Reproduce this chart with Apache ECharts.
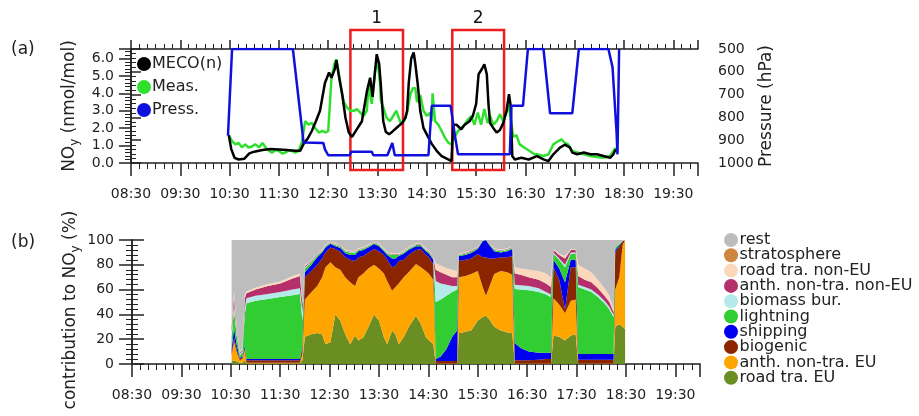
<!DOCTYPE html>
<html>
<head>
<meta charset="utf-8">
<script src="https://cdn.jsdelivr.net/npm/echarts@6/dist/echarts.min.js"></script>
<style>html,body{margin:0;background:#fff}#chart{width:919px;height:416px}</style>
</head>
<body>
<div id="chart"></div>
<script>
// time is minutes after 08:30
var mecoT = [119,122,126,131,138,144,150,160,170,180,190,200,206,210,215,220,225,230,236,241,244,248,250,253,257,261,265,269,273,281,287,291,294,299,302,304,307,310,314,318,325,330,334,336,338,341,344,346,349,352,356,362,366,372,378,386,390,392,396,402,406,412,416,420,423,427,430,433,435,437,441,445,449,453,457,460,462,464,467,475,484,494,502,508,514,522,528,534,537,543,551,559,567,575,583,587,590];
var mecoV = [1.6,0.8,0.3,0.2,0.25,0.55,0.65,0.75,0.8,0.78,0.75,0.7,0.7,1.1,1.4,1.84,2.4,3.0,4.6,5.2,4.9,5.4,5.9,5.0,3.95,2.6,1.75,1.5,1.8,2.4,4.1,4.9,3.8,6.25,5.7,4.5,2.4,1.8,1.65,1.8,2.1,2.3,2.6,3.0,4.6,6.0,6.35,5.7,4.5,3.0,2.0,1.46,1.1,0.7,0.4,0.21,0.11,2.2,2.2,1.94,2.2,2.4,2.7,3.4,5.1,5.4,5.67,5.1,3.4,2.3,2.0,1.75,1.9,2.3,3.0,3.95,3.3,0.4,0.2,0.3,0.2,0.4,0.21,0.11,0.5,0.88,1.05,0.9,0.6,0.5,0.6,0.5,0.5,0.4,0.3,0.5,0.79];

var measT = [119,123,127,131,135,139,143,147,151,156,160,164,168,172,176,180,184,188,192,196,200,204,208,212,216,220,224,229,233,237,240,244,248,250,253,257,259,263,267,271,275,279,283,287,289,293,297,300,303,304,307,311,315,319,323,328,332,336,340,343,346,348,352,356,360,364,366,367,370,374,378,382,386,390,394,398,402,406,410,414,418,422,426,430,434,437,441,445,449,453,457,460,465,469,473,479,485,491,494,502,508,514,520,524,528,532,537,543,551,559,567,575,583,587,590];
var measV = [1.6,1.26,1.07,1.15,0.9,1.07,0.88,0.95,1.07,0.9,1.15,0.88,0.7,0.6,0.75,0.69,0.55,0.6,0.72,0.69,0.6,0.69,1.2,2.4,2.2,2.3,2.0,1.75,1.84,1.75,1.84,4.9,5.77,5.96,5.1,3.95,3.5,3.18,3.0,3.0,3.1,2.9,2.7,3.0,4.5,3.4,5.3,5.9,4.6,3.6,3.2,2.6,2.4,2.7,3.0,2.3,2.4,2.9,3.95,4.3,4.3,3.5,3.9,3.0,2.7,2.9,2.4,4.0,2.4,2.2,1.84,1.46,1.17,1.07,1.5,1.84,2.0,2.2,2.5,2.7,2.2,2.9,2.2,3.1,2.3,2.7,2.2,2.4,2.8,2.4,2.9,3.3,1.5,1.6,1.07,0.88,0.69,0.5,0.5,0.4,0.5,1.07,1.26,1.36,1.15,1.07,0.69,0.6,0.5,0.4,0.35,0.3,0.4,0.69,0.88];

var pressT = [118,123,197,210,234,236,240,266,268,293,295,312,318,321,362,366,389,394,398,461,463,477,483,502,510,537,545,581,586,591,592,594];
var pressV = [880,500,500,910,912,940,966,966,951,951,966,966,912,966,966,749,749,876,962,962,749,749,500,500,782,782,500,500,580,873,962,500];

// panel (b): contribution of each source, % (bottom layer first)
var tb = [121,124,127,131,134,137,139,150,165,180,195,204,207,210,218,225,231,235,241,247,253,259,265,271,275,281,287,294,300,306,310,316,320,324,330,336,345,351,357,361,366,369,375,382,389,395,397,405,412,420,426,430,434,440,448,456,462,465,472,482,494,503,509,512,519,526,533,539,542,550,558,566,574,580,585,587,592,596,599];
var roadEU = [2,3,2,1,1,3,0.5,0.5,0.5,0.5,0.5,0.5,3,22,24,25,24,16,17.5,40,35,24,16,23,19,21.5,29.6,40,35,21.5,16,27,24,16,21.5,29.6,39,32,21.5,19,16,0,0,0,0,0,24.7,26,27,35,38,39,36,30,27,25.5,24.7,0,0,0,0,0,0,23,22,19,23,24,0,0,0,0,0,0,0,30,32,30,28];
var anthEU = [5,15,8,2,3,8,0.5,0.5,0.5,0.5,0.5,0.5,5,30,34,38,46,62,64.5,38,41,46,50,40,51,51.5,47.4,40,42,51.5,51,32,38,49,48.5,44.4,41.6,46,53.5,53.6,52,0.5,0.5,0.5,0.5,0.5,45.3,45,45.6,40,24,16,26,42.6,48,48.5,47.3,0.5,0.5,0.5,0.5,0.5,0.5,30,26,22,28,28,0.5,0.5,0.5,0.5,0.5,0.5,0.5,30,38,66,71];
var biogenic = [2,3,2,1,1,2,2,2,2,2,2,2,4,18,17,17,15,12,12,14.7,14.5,16,18,20,16,14,13,12.7,14,15,17,19,17,18,14,14,11.4,14.7,13,13.4,12,2,2,2,2,2,13,13,12.4,13.7,24,31,23,12.4,11,12,15,2.5,2.5,2.5,3,3.5,3.5,25,20,3,27,26,3,3,3,3,3,3,3,30,25,3,1];
var shipping = [3,8,4,1,1,2,1,1,1,1,1,1,3,4,5,6,5,4,3,2.3,3,3.5,4,5,5,5,4,4.1,4,3,4,7,6,4,5,4,3,2.3,3,3,4,1.5,3.5,9.5,19.5,24.5,4,4,4.5,4,13,14,11,6,4,5,5.7,14,10,7,5.5,5,5,6,9,22,6,6,4.5,4.5,4.5,4.5,4.5,4.5,4.5,2,1,0,0];
var lightning = [10,15,8,2,3,25,45,47,48.5,50,51.5,52.5,20,3,2,1.5,1,1,0.5,1,1,1.5,2,2,1,1,1,0.7,1,1,1,3,3,1,1,1,1,1,1,1,1,46,46,43,36,33,1,1,1,0.8,0.5,0,1,1,1,1,0.8,43.5,47,49.5,49,47,45,5,7,12,5,5,54,52,50,46,41,36,30,2,1,0,0];
var biomass = [3,5,3,1,1,5,4,4,4,4,4.5,4.5,7,1,0.5,0.5,0.3,0.3,0.3,0.3,0.3,0.3,0.3,0.3,0.3,0.3,0.3,0.3,0.3,0.3,0.3,0.3,0.3,0.3,0.3,0.3,0.3,0.3,0.3,0.3,0.3,17,13,9,5,3,0.3,0.3,0.3,0.3,0.1,0,0.2,0.3,0.3,0.3,0.3,3.5,3.5,3.5,3,2,2,1,1,2,1,1,2,2,2,2,2,2,1.5,0,0,0,0];
var anthNonEU = [5,6,3,1,1,8,4,5,6.5,7,9,10,6,1,0.5,0.5,0.5,0.5,0.4,0.5,0.5,0.5,0.5,0.5,0.5,0.5,0.5,0.4,0.5,0.5,0.5,0.5,0.5,0.5,0.5,0.5,0.5,0.5,0.5,0.5,0.5,9,9,8,7,7,0.5,0.5,0.5,0.4,0.2,0,0.3,0.5,0.5,0.5,0.5,9,8.5,7,7,7,6,2,3,5,2,2,7,6,6,5,4,4,2.5,0,0,0,0];
var roadNonEU = [2,3,2,1,1,3,1.5,1.5,1.5,1.5,2,2,2,1,0.5,0.5,0.5,0.5,0.3,0.5,0.5,0.5,0.5,0.5,0.5,0.5,0.5,0.3,0.5,0.5,0.5,0.5,0.5,0.5,0.5,0.5,0.5,0.5,0.5,0.5,0.5,5,5.5,5.5,6,5,0.5,0.5,0.5,0.3,0.2,0,0.3,0.5,0.5,0.5,0.5,5,5,6,7,8,8,0.5,1,2,0.5,0.5,9,9,8,7,6,5,2,0,0,0,0];
var strato = [0,0,0,0,0,0,0,0,0,0,0,0,0,0,0,0,0,0,0,0,0,0,0,0,0,0,0,0,0,0,0,0,0,0,0,0,0,0,0,0,0,0,0,0,0,0,0,0,0,0,0,0,0,0,0,0,0,0,0,0,0,0,0,0,0,0,0,0,0,0,0,0,0,0,0,0,0,0,0];
var rest = [68,42,68,90,88,44,41.5,38.5,35.5,33.5,29,27,50,20,16.5,11,7.7,3.7,1.5,2.7,4.2,7.7,8.7,8.7,6.7,5.7,3.7,1.5,2.7,6.7,9.7,10.7,10.7,10.7,8.7,5.7,2.7,2.7,6.7,8.7,13.7,19,20.5,22.5,24,25,10.7,9.7,8.2,5.5,0,0,2.2,6.7,7.7,6.7,5.2,22,23,24,25,27,30,7.5,11,13,7.5,7.5,20,23,26,32,39,45,56,6,3,1,0];

var srcNames = ['road tra. EU', 'anth. non-tra. EU', 'biogenic', 'shipping', 'lightning', 'biomass bur.', 'anth. non-tra. non-EU', 'road tra. non-EU', 'stratosphere', 'rest'];
var srcValues = [roadEU, anthEU, biogenic, shipping, lightning, biomass, anthNonEU, roadNonEU, strato, rest];
var srcColors = ['#6b8e23', '#ffa500', '#8b2500', '#0000ee', '#32cd32', '#b4eaea', '#b5306a', '#fbd8bb', '#cd853f', '#bdbdbd'];

// red boxes in panel (a)
var boxes = [[267, 331, '1'], [391, 454, '2']];

function zip(t, v) {
  var out = [];
  for (var i = 0; i < t.length; i++) out.push([t[i], v[i]]);
  return out;
}
// value first, time second: the stack then runs on the value column
function zipVT(t, v) {
  var out = [];
  for (var i = 0; i < t.length; i++) out.push([v[i], t[i]]);
  return out;
}
function clock(v) {
  var t = 510 + v, h = Math.floor(t / 60), m = t % 60;
  return (h < 10 ? '0' : '') + h + ':' + (m < 10 ? '0' : '') + m;
}

var FONT = 'DejaVu Sans';
var ink = '#222';
var lineDark = { lineStyle: { color: ink, width: 1.5 } };

function timeAxis(grid, pos, opts) {
  var ax = {
    type: 'value', gridIndex: grid, position: pos, min: 0, max: 690, interval: 60,
    axisLine: lineDark,
    axisTick: { show: true, length: 13, lineStyle: { color: ink, width: 1.5 } },
    minorTick: { show: true, splitNumber: 6, length: 6, lineStyle: { color: ink, width: 1 } },
    axisLabel: { show: true, margin: 24, formatter: clock, showMaxLabel: false, fontSize: 14, fontFamily: FONT, color: ink },
    splitLine: { show: false }
  };
  for (var k in opts) ax[k] = opts[k];
  return ax;
}

var series = [
  { name: 'Meas.', type: 'line', xAxisIndex: 0, yAxisIndex: 0, data: zip(measT, measV), showSymbol: false, color: '#2fe02f', lineStyle: { width: 2.5 }, z: 3 },
  { name: 'MECO(n)', type: 'line', xAxisIndex: 0, yAxisIndex: 0, data: zip(mecoT, mecoV), showSymbol: false, color: '#000', lineStyle: { width: 2.5 }, z: 4 },
  { name: 'Press.', type: 'line', xAxisIndex: 0, yAxisIndex: 1, data: zip(pressT, pressV), showSymbol: false, color: '#1010dd', lineStyle: { width: 2.5 }, z: 5 }
];
for (var i = 0; i < srcNames.length; i++) {
  series.push({
    name: srcNames[i], type: 'line', stack: 'src', xAxisIndex: 2, yAxisIndex: 2,
    data: zipVT(tb, srcValues[i]), encode: { x: 1, y: 0 },
    showSymbol: false, color: srcColors[i],
    lineStyle: { width: 0 }, areaStyle: { color: srcColors[i], opacity: 1 }
  });
}
series.push({
  type: 'line', xAxisIndex: 4, yAxisIndex: 4, data: [], z: 10,
  markArea: {
    silent: true,
    itemStyle: { color: 'rgba(0,0,0,0)', borderColor: '#ee1c1c', borderWidth: 2.5 },
    label: { show: true, position: 'top', distance: 2, fontSize: 17, fontFamily: FONT, color: '#111' },
    data: boxes.map(function (b) { return [{ xAxis: b[0], name: b[2] }, { xAxis: b[1] }]; })
  }
});

var nameStyle = { fontSize: 17, color: ink, fontFamily: FONT,
  rich: { s: { fontSize: 12, fontFamily: FONT, color: ink, padding: [10, 0, 0, 0] } } };

var chart = echarts.init(document.getElementById('chart'), null, { renderer: 'canvas' });
chart.setOption({
  animation: false,
  backgroundColor: '#fff',
  textStyle: { fontFamily: FONT },
  title: [
    { text: '(a)', left: 6, top: 36, textStyle: { fontSize: 17, fontWeight: 'normal', color: ink, fontFamily: FONT } },
    { text: '(b)', left: 6, top: 229, textStyle: { fontSize: 17, fontWeight: 'normal', color: ink, fontFamily: FONT } }
  ],
  grid: [
    { left: 131, right: 221, top: 49, height: 114 },
    { left: 132, right: 219, top: 240, height: 124 },
    { left: 131, right: 221, top: 30, height: 140 }
  ],
  legend: [
    {
      data: ['MECO(n)', 'Meas.', 'Press.'], orient: 'vertical', left: 132, top: 51,
      icon: 'circle', itemWidth: 14, itemHeight: 14, itemGap: 7, selectedMode: false, z: 1,
      textStyle: { fontSize: 16, color: ink, fontFamily: FONT, padding: [0, 0, 0, -4] }
    },
    {
      data: srcNames.slice().reverse(), orient: 'vertical', left: 719, top: 227,
      icon: 'circle', itemWidth: 15, itemHeight: 14, itemGap: -0.7, selectedMode: false,
      textStyle: { fontSize: 16, lineHeight: 14, color: ink, fontFamily: FONT, padding: [0, 0, 0, -4] }
    }
  ],
  xAxis: [
    timeAxis(0, 'bottom', {}),
    timeAxis(0, 'top', {
      axisLabel: { show: false },
      axisTick: { show: true, length: 9, lineStyle: { color: ink, width: 1.5 } },
      minorTick: { show: true, splitNumber: 6, length: 5, lineStyle: { color: ink } }
    }),
    timeAxis(1, 'bottom', {}),
    timeAxis(1, 'top', {
      axisLabel: { show: false }, axisTick: { show: false }, minorTick: { show: false },
      axisLine: { lineStyle: { color: '#555', width: 1.5 } }
    }),
    { type: 'value', gridIndex: 2, min: 0, max: 690, show: false }
  ],
  yAxis: [
    {
      type: 'value', gridIndex: 0, position: 'left', min: 0, max: 6.55, interval: 1,
      axisLine: { show: true, lineStyle: { color: ink, width: 1.5 } },
      axisTick: { show: true, length: 12, lineStyle: { color: ink, width: 1.5 } },
      minorTick: { show: true, splitNumber: 5, length: 6, lineStyle: { color: ink } },
      axisLabel: { margin: 17, fontSize: 14, color: ink, fontFamily: FONT, showMaxLabel: false,
        formatter: function (v) { return v.toFixed(1); } },
      splitLine: { show: false },
      name: 'NO{s|y} (nmol/mol)', nameLocation: 'middle', nameGap: 50, nameRotate: 90, nameMoveOverlap: false,
      nameTextStyle: nameStyle
    },
    {
      type: 'value', gridIndex: 0, position: 'right', min: 500, max: 1000, interval: 100, inverse: true,
      axisLine: { show: true, lineStyle: { color: ink, width: 1.5 } },
      axisTick: { show: true, length: 10, lineStyle: { color: ink, width: 1.5 } },
      minorTick: { show: true, splitNumber: 5, length: 5, lineStyle: { color: ink } },
      axisLabel: { margin: 20, fontSize: 14, color: ink, fontFamily: FONT,
        formatter: function (v) { return String(v); } },
      splitLine: { show: false },
      name: 'Pressure (hPa)', nameLocation: 'middle', nameGap: 60, nameRotate: 90, nameMoveOverlap: false,
      nameTextStyle: { fontSize: 17, color: ink, fontFamily: FONT }
    },
    {
      type: 'value', gridIndex: 1, position: 'left', min: 0, max: 100, interval: 20,
      axisLine: { show: true, lineStyle: { color: ink, width: 1.5 } },
      axisTick: { show: true, length: 13, lineStyle: { color: ink, width: 1.5 } },
      minorTick: { show: true, splitNumber: 5, length: 6, lineStyle: { color: ink } },
      axisLabel: { margin: 18, fontSize: 14, color: ink, fontFamily: FONT },
      splitLine: { show: false },
      name: 'contribution to NO{s|y} (%)', nameLocation: 'middle', nameGap: 50, nameRotate: 90, nameMoveOverlap: false,
      nameTextStyle: { fontSize: 17, color: ink, fontFamily: FONT, padding: [0, 16, 0, 0],
        rich: nameStyle.rich }
    },
    {
      type: 'value', gridIndex: 1, position: 'right', min: 0, max: 100, interval: 20,
      axisLine: { show: true, lineStyle: { color: ink, width: 1.5 } },
      axisTick: { show: true, length: 12, lineStyle: { color: ink, width: 1.5 } },
      minorTick: { show: true, splitNumber: 5, length: 6, lineStyle: { color: ink } },
      axisLabel: { show: false }, splitLine: { show: false }
    },
    { type: 'value', gridIndex: 2, min: 0, max: 1, show: false }
  ],
  series: series
});
</script>
</body>
</html>
